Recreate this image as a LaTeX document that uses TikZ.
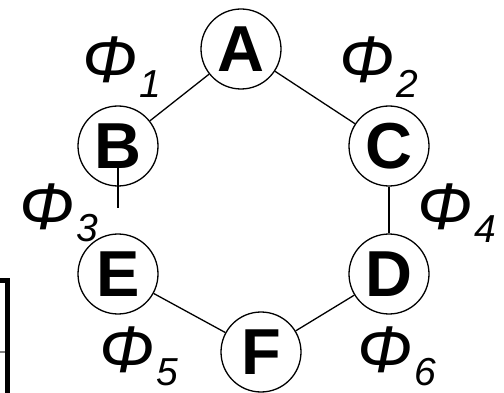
\documentclass[tikz,border=0pt]{standalone}
\usepackage{fontspec}
\setmainfont{Liberation Sans}
\begin{document}
\begin{tikzpicture}[x=1pt,y=-1pt,
  vtx/.style={circle,draw,line width=1.3pt,minimum size=80pt,inner sep=0pt,
    font=\fontsize{65}{65}\selectfont\bfseries},
  edge/.style={line width=1.3pt},
  philab/.style={anchor=base west,inner sep=0pt,font=\fontsize{66}{66}\selectfont\itshape}]
\useasboundingbox (0,0) rectangle (504,393);
\fill[white] (0,0) rectangle (504,393);
\node[vtx] (A) at (241,49) {A};
\node[vtx] (B) at (118,146) {B};
\node[vtx] (C) at (389,146) {C};
\node[vtx] (E) at (118,274) {E};
\node[vtx] (D) at (389,274) {D};
\node[vtx] (F) at (261,352) {F};
\draw[edge] (A) -- (B);
\draw[edge] (A) -- (C);
\draw[edge] (C) -- (D);
\draw[edge] (D) -- (F);
\draw[edge] (F) -- (E);
\coordinate (b1) at (118,162);
\coordinate (b2) at (118,208);
\draw[edge] (b1) -- (b2);
\node[philab] (p1) at (82,83) {Φ\kern2pt\raisebox{-15pt}{\fontsize{39}{39}\selectfont 1}};
\node[philab] (p2) at (339,83) {Φ\kern2pt\raisebox{-15pt}{\fontsize{39}{39}\selectfont 2}};
\node[philab] (p3) at (19,230) {Φ\kern2pt\raisebox{-12pt}{\fontsize{39}{39}\selectfont 3}};
\node[philab] (p4) at (417,230) {Φ\kern2pt\raisebox{-13pt}{\fontsize{39}{39}\selectfont 4}};
\node[philab] (p5) at (99,372) {Φ\kern2pt\raisebox{-13pt}{\fontsize{39}{39}\selectfont 5}};
\node[philab] (p6) at (357,372) {Φ\kern2pt\raisebox{-13pt}{\fontsize{39}{39}\selectfont 6}};
% left bracket fragment
\draw[line width=5pt] (0,280.5) -- (7.5,280.5) -- (7.5,393);
\draw[line width=1.5pt,gray] (0,352) -- (5,352);
\end{tikzpicture}
\end{document}
